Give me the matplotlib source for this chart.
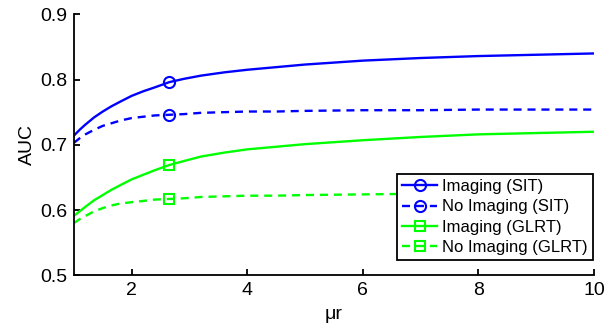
import matplotlib
matplotlib.use("Agg")
import matplotlib.pyplot as plt

plt.rcParams['font.family'] = ['Liberation Sans', 'DejaVu Sans']

# mu*r sample positions
mu_r = [1.0, 1.1, 1.2, 1.35, 1.5, 1.65, 1.8, 2.0, 2.2, 2.4, 2.65, 2.9, 3.2, 3.6, 4.0, 4.5,
        5.0, 6.0, 7.0, 8.0, 9.0, 10.0]

auc_img_sit = [0.714, 0.723, 0.731, 0.742, 0.751, 0.759, 0.766, 0.775, 0.782, 0.788, 0.796, 0.801,
               0.806, 0.811, 0.815, 0.819, 0.823, 0.829, 0.833, 0.836, 0.838, 0.840]
auc_noimg_sit = [0.703, 0.710, 0.716, 0.723, 0.729, 0.733, 0.737, 0.741, 0.743, 0.745, 0.746, 0.747,
                 0.749, 0.750, 0.751, 0.751, 0.752, 0.753, 0.753, 0.754, 0.754, 0.754]
auc_img_glrt = [0.591, 0.598, 0.605, 0.615, 0.623, 0.631, 0.638, 0.647, 0.654, 0.661, 0.669, 0.675,
                0.682, 0.688, 0.693, 0.697, 0.701, 0.707, 0.712, 0.716, 0.718, 0.720]
auc_noimg_glrt = [0.580, 0.586, 0.591, 0.598, 0.603, 0.607, 0.610, 0.612, 0.614, 0.616, 0.617, 0.618,
                  0.620, 0.621, 0.622, 0.622, 0.623, 0.624, 0.625, 0.625, 0.626, 0.626]

marker_x = 2.65
labels = ['Imaging (SIT)', 'No Imaging (SIT)', 'Imaging (GLRT)', 'No Imaging (GLRT)']
x_ticks = [2, 4, 6, 8, 10]
y_ticks = [0.5, 0.6, 0.7, 0.8, 0.9]

fig = plt.figure(figsize=(6.07, 3.28), dpi=100)
ax = fig.add_axes([0.1217, 0.1607, 0.8569, 0.7957])

series = [
    (auc_img_sit, (0, 0, 1), '-', 'o', 8),
    (auc_noimg_sit, (0, 0, 1), '--', 'o', 8),
    (auc_img_glrt, (0, 1, 0), '-', 's', 7),
    (auc_noimg_glrt, (0, 1, 0), '--', 's', 7),
]
mi = mu_r.index(marker_x)
for (vals, col, ls, mk, ms), lab in zip(series, labels):
    line, = ax.plot(mu_r, vals, color=col, linestyle=ls, lw=1.7,
                    marker=mk, markevery=[mi], markersize=ms,
                    markerfacecolor='none', markeredgecolor=col,
                    markeredgewidth=1.5, label=lab)
    if ls == '--':
        line.set_dashes((3.4, 2.5))

ax.set_xlim(1, 10)
ax.set_ylim(0.5, 0.9)
ax.set_xticks(x_ticks)
ax.set_xticklabels([str(t) for t in x_ticks])
ax.set_yticks(y_ticks)
ax.set_yticklabels([f'{t:.1f}' for t in y_ticks])

for s in ['top', 'right']:
    ax.spines[s].set_visible(False)
for s in ['left', 'bottom']:
    ax.spines[s].set_linewidth(1.3)
ax.tick_params(direction='in', length=4, width=1.3, labelsize=14, pad=5)

ax.set_xlabel('\u03bcr', fontsize=14, labelpad=5)
ax.set_ylabel('AUC', fontsize=14, labelpad=3)

leg = ax.legend(loc='lower right', bbox_to_anchor=(0.998, 0.058), fontsize=12,
                frameon=True, fancybox=False, edgecolor='black', framealpha=1,
                handlelength=2.1, handletextpad=0.3, borderpad=0.3,
                labelspacing=0.32, borderaxespad=0)
leg.get_frame().set_linewidth(1.3)

fig.savefig('out.png', dpi=100)
